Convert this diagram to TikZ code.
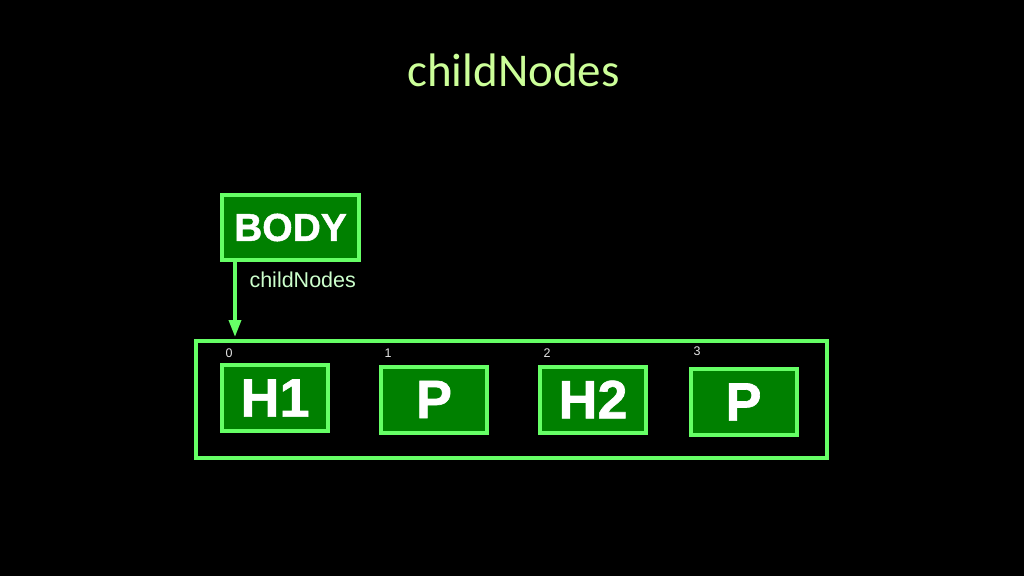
\documentclass[tikz,border=0pt]{standalone}
\usepackage{fontspec}
\setmainfont{Liberation Sans}
\newfontfamily\titlefont{Carlito}
\newfontfamily\heavyfont{Liberation Sans Bold}[FakeBold=1.2]
\usetikzlibrary{arrows.meta,positioning}
\definecolor{slidebg}{HTML}{000000}
\definecolor{titlegreen}{HTML}{CCFF99}
\definecolor{boxfill}{HTML}{008000}
\definecolor{boxline}{HTML}{66FF66}
\definecolor{labelgreen}{HTML}{CCFFCC}

\tikzset{
  elem/.style={draw=boxline, fill=boxfill, line width=4pt, text=white,
    font=\heavyfont\fontsize{54}{54}\selectfont, minimum width=106pt,
    minimum height=66pt, inner sep=0pt},
  idx/.style={text=white!90!black, font=\fontsize{12.5}{12.5}\selectfont},
  link/.style={draw=boxline, line width=3.5pt, -{Triangle[width=12pt,length=17pt]}}
}

\begin{document}
\begin{tikzpicture}[x=1pt,y=-1pt]
  \fill [slidebg] (0,0) rectangle (1024,576);
  \useasboundingbox (0,0) rectangle (1024,576);
  \node [text=titlegreen, font=\titlefont\fontsize{47}{47}\selectfont] (title) at (513.5,70) {childNodes};
  % parent element
  \node [elem, font=\heavyfont\fontsize{39}{39}\selectfont, minimum width=137pt, minimum height=65pt] (body) at (290.5,227.5) {BODY};
  % the NodeList
  \node [draw=boxline, line width=4pt, minimum width=631pt, minimum height=117pt, inner sep=0pt] (list) at (511.5,399.5) {};
  \node [elem] (h1) at (275,398) {H1};
  \node [elem] (p1) at (434,399.5) {P};
  \node [elem] (h2) at (593,399.5) {H2};
  \node [elem] (p2) at (743.5,402) {P};
  \node [idx] (i0) at (229,353) {0};
  \node [idx] (i1) at (388,353) {1};
  \node [idx] (i2) at (547,353) {2};
  \node [idx] (i3) at (697,351) {3};
  \draw [link] ([xshift=-55.5pt]body.south) -- ([xshift=-55.5pt,yshift=2pt]body.south |- list.north);
  \node [anchor=west, text=labelgreen, font=\fontsize{21.5}{21.5}\selectfont] (lbl) at (246,280) {childNodes};
\end{tikzpicture}
\end{document}
